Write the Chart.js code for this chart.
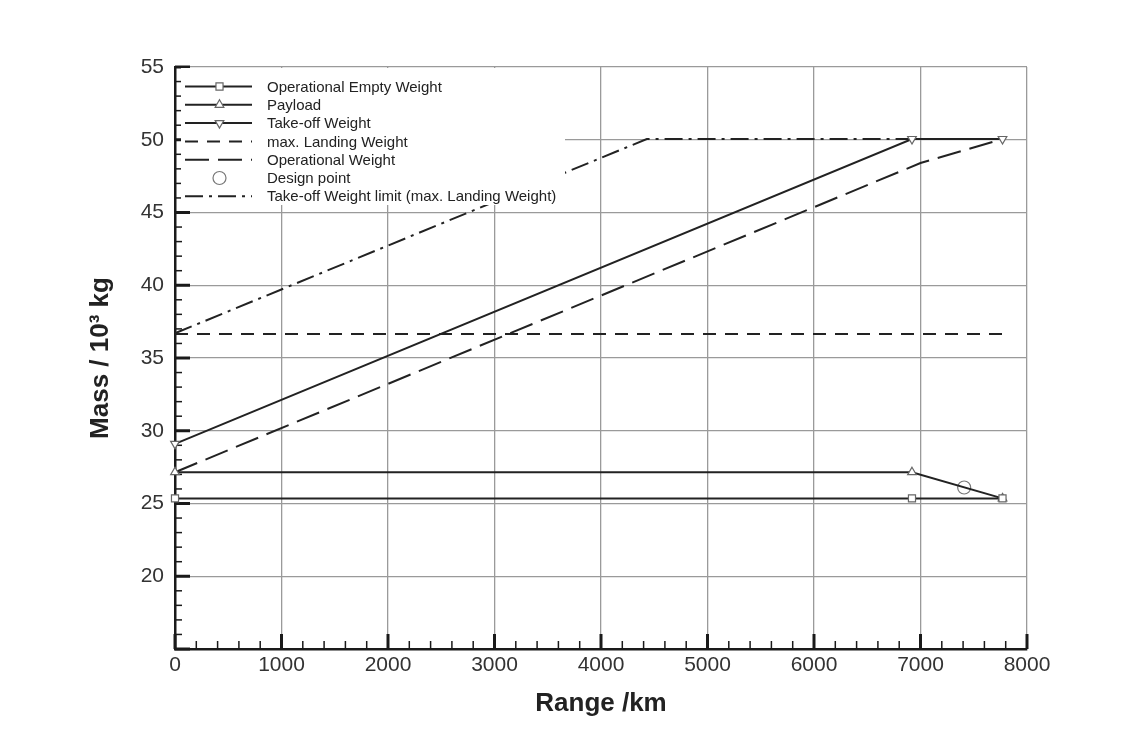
<!DOCTYPE html>
<html>
<head>
<meta charset="utf-8">
<script src="https://cdn.jsdelivr.net/npm/chart.js@4.4.0/dist/chart.umd.min.js"></script>
<style>
    html, body { margin: 0; padding: 0; background: #fff; }
</style>
</head>
<body>
<canvas id="massChart" width="1131" height="753"></canvas>
<script>
// range in km, mass in 10^3 kg
var oewRange = [0, 6920, 7770];
var oewMass = [25.35, 25.35, 25.35];

var payloadRange = [0, 6920, 7770];
var payloadMass = [27.15, 27.15, 25.35];

var towRange = [0, 6920, 7770];
var towMass = [29.1, 50.05, 50.05];

var mlwRange = [0, 7770];
var mlwMass = [36.65, 36.65];

var owRange = [0, 7000, 7770];
var owMass = [27.15, 48.4, 50.05];

var designRange = [7410];
var designMass = [26.1];

var towLimitRange = [0, 4430, 6920];
var towLimitMass = [36.7, 50.05, 50.05];

var xTickValues = [0, 1000, 2000, 3000, 4000, 5000, 6000, 7000, 8000];
var yTickValues = [20, 25, 30, 35, 40, 45, 50, 55];

var fontFamily = '"Liberation Sans", Arial, Helvetica, sans-serif';

function series(xs, ys) {
    return xs.map(function (x, i) { return { x: x, y: ys[i] }; });
}

function lineSet(label, xs, ys, extra) {
    var ds = {
        label: label,
        data: series(xs, ys),
        showLine: true,
        borderColor: '#222',
        borderWidth: 2,
        borderDash: [],
        pointRadius: 0,
        pointBackgroundColor: '#fff',
        pointBorderColor: '#666',
        pointBorderWidth: 1.2,
        pointStyle: 'circle',
        pointRotation: 0,
        tension: 0,
        clip: false
    };
    for (var k in extra) ds[k] = extra[k];
    return ds;
}

var datasets = [
    lineSet('Operational Empty Weight', oewRange, oewMass, { pointStyle: 'rect', pointRadius: 5 }),
    lineSet('Payload', payloadRange, payloadMass, { pointStyle: 'triangle', pointRadius: 5 }),
    lineSet('Take-off Weight', towRange, towMass, { pointStyle: 'triangle', pointRotation: 180, pointRadius: 5 }),
    lineSet('max. Landing Weight', mlwRange, mlwMass, { borderDash: [13, 9] }),
    lineSet('Operational Weight', owRange, owMass, { borderDash: [24, 9] }),
    lineSet('Design point', designRange, designMass, { showLine: false, pointRadius: 6.5, pointBorderColor: '#777' }),
    lineSet('Take-off Weight limit (max. Landing Weight)', towLimitRange, towLimitMass, { borderDash: [18, 6, 3, 6] })
];

// short tick marks pointing into the plot, major + minor
var innerTicks = {
    id: 'innerTicks',
    beforeDatasetsDraw: function (chart) {
        var c = chart.ctx, xs = chart.scales.x, ys = chart.scales.y, area = chart.chartArea;
        c.save();
        c.strokeStyle = '#1a1a1a';
        for (var v = xs.min; v <= xs.max; v += 200) {
            var major = v % 1000 === 0;
            var px = xs.getPixelForValue(v);
            c.lineWidth = major ? 3 : 1.5;
            c.beginPath();
            c.moveTo(px, area.bottom);
            c.lineTo(px, area.bottom - (major ? 15 : 8));
            c.stroke();
        }
        for (var w = ys.min; w <= ys.max; w += 1) {
            var big = w % 5 === 0;
            var py = ys.getPixelForValue(w);
            c.lineWidth = big ? 3 : 1.5;
            c.beginPath();
            c.moveTo(area.left, py);
            c.lineTo(area.left + (big ? 15 : 7), py);
            c.stroke();
        }
        c.restore();
    }
};

// legend drawn inside the plot on a white box
var boxLegend = {
    id: 'boxLegend',
    afterDatasetsDraw: function (chart) {
        var c = chart.ctx, area = chart.chartArea;
        c.save();
        c.fillStyle = '#fff';
        c.fillRect(area.left + 6, area.top + 1, 384, 137);
        c.font = '15px ' + fontFamily;
        c.textBaseline = 'middle';
        chart.data.datasets.forEach(function (ds, i) {
            var y = area.top + 19.5 + i * 18.3;
            var x0 = area.left + 10, x1 = area.left + 77;
            if (ds.showLine !== false) {
                c.beginPath();
                c.setLineDash(ds.borderDash);
                c.lineWidth = ds.borderWidth;
                c.strokeStyle = ds.borderColor;
                c.moveTo(x0, y);
                c.lineTo(x1, y);
                c.stroke();
            }
            c.setLineDash([]);
            if (ds.pointRadius > 0) {
                c.fillStyle = '#fff';
                c.strokeStyle = ds.pointBorderColor;
                c.lineWidth = ds.pointBorderWidth;
                Chart.helpers.drawPoint(c, {
                    pointStyle: ds.pointStyle,
                    rotation: ds.pointRotation,
                    radius: ds.pointRadius,
                    borderWidth: ds.pointBorderWidth
                }, (x0 + x1) / 2 + 1, y);
            }
            c.fillStyle = '#222';
            c.fillText(ds.label, area.left + 92, y + 1);
        });
        c.restore();
    }
};

var ctx = document.getElementById('massChart').getContext('2d');
var massChart = new Chart(ctx, {
    type: 'scatter',
    data: { datasets: datasets },
    plugins: [innerTicks, boxLegend],
    options: {
        responsive: false,
        animation: false,
        devicePixelRatio: 1,
        layout: { padding: { top: 67, right: 104, bottom: 0, left: 0 } },
        plugins: {
            legend: { display: false },
            tooltip: { enabled: false }
        },
        scales: {
            x: {
                type: 'linear',
                min: 0,
                max: 8000,
                afterBuildTicks: function (s) {
                    s.ticks = xTickValues.map(function (v) { return { value: v }; });
                },
                afterFit: function (s) { s.height = 104; },
                grid: { color: '#9a9a9a', lineWidth: 1.3, drawTicks: false },
                border: { color: '#1a1a1a', width: 2.5 },
                ticks: {
                    padding: 4,
                    color: '#333',
                    maxRotation: 0,
                    autoSkip: false,
                    font: { size: 21, family: fontFamily },
                    callback: function (v) { return String(v); }
                },
                title: {
                    display: true,
                    text: 'Range /km',
                    color: '#222',
                    font: { size: 26, weight: 'bold', family: fontFamily },
                    padding: { top: 0, bottom: 34 }
                }
            },
            y: {
                type: 'linear',
                min: 15,
                max: 55,
                afterBuildTicks: function (s) {
                    s.ticks = yTickValues.map(function (v) { return { value: v }; });
                },
                afterFit: function (s) { s.width = 175; },
                grid: { color: '#9a9a9a', lineWidth: 1.3, drawTicks: false },
                border: { color: '#1a1a1a', width: 2.5 },
                ticks: {
                    padding: 11,
                    color: '#333',
                    font: { size: 21, family: fontFamily },
                    callback: function (v) { return String(v); }
                },
                title: {
                    display: true,
                    text: 'Mass / 10³ kg',
                    color: '#222',
                    font: { size: 26, weight: 'bold', family: fontFamily },
                    padding: { top: 85, bottom: 0 }
                }
            }
        }
    }
});
</script>
</body>
</html>
